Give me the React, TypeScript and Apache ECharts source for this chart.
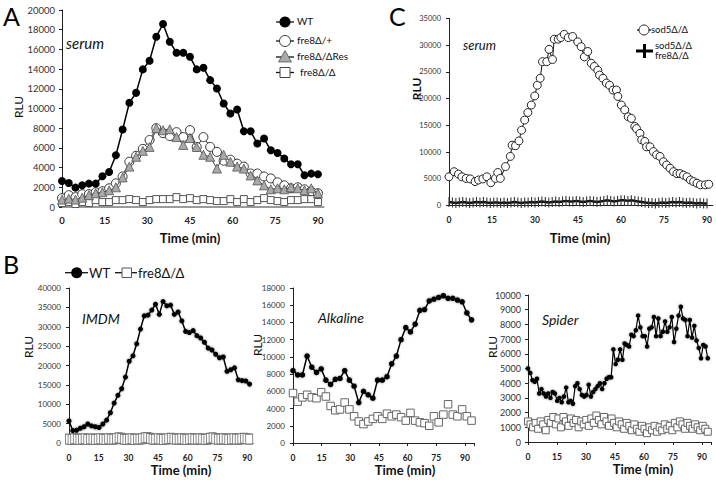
import React, { useEffect, useRef } from "react";
import * as echarts from "echarts";

const FONT = "Lato, 'Liberation Sans', 'DejaVu Sans', sans-serif";

// ---------- Panel A : serum ----------
const aStep = 90 / 38; // minutes between reads
const aWT = [2640, 2440, 1970, 2200, 2370, 2370, 3120, 3560, 5250, 7860, 10580, 11590, 13970, 14850, 17290, 18580, 16780, 15660, 15660, 15250, 13970, 14140, 12880, 12030, 10510, 9490, 9900, 7690, 7690, 6440, 6950, 5760, 5490, 4920, 4340, 4340, 3220, 3390, 3320];
const aHet = [900, 1200, 1000, 1300, 1300, 1500, 1600, 1900, 2400, 3100, 4600, 5200, 5900, 6800, 8000, 7500, 7200, 7600, 7100, 7800, 6100, 7100, 6100, 5600, 4700, 4800, 4400, 4100, 3400, 3400, 3100, 2900, 2500, 2200, 1900, 2000, 1800, 1600, 1400];
const aRes = [750, 850, 750, 950, 1200, 1400, 1500, 1700, 2000, 3000, 4100, 5100, 5700, 6100, 8000, 7800, 7900, 7100, 6300, 7000, 6100, 5300, 5100, 3900, 5300, 4600, 4100, 3900, 3200, 2700, 2200, 1800, 1900, 1800, 2000, 1900, 1700, 1900, 1400];
const aDel = [400, 500, 300, 500, 400, 700, 500, 500, 700, 700, 800, 700, 500, 700, 800, 800, 800, 1000, 800, 900, 700, 800, 700, 600, 600, 800, 500, 800, 500, 700, 900, 700, 600, 500, 700, 700, 800, 800, 500];

// ---------- Panel C : serum ----------
const cSodTimes = [0, 1.8, 3.3, 4.5, 6.0, 7.4, 9.1, 10.3, 11.8, 13.2, 14.6, 16.2, 17.0, 17.9, 19.7, 21.4, 22.0, 23.2, 24.4, 25.3, 26.4, 27.5, 28.7, 29.9, 30.8, 31.8, 32.6, 34.1, 34.9, 36.1, 36.7, 38.1, 39.0, 40.2, 41.6, 43.1, 44.9, 46.1, 47.2, 48.4, 49.6, 50.7, 51.9, 52.5, 53.7, 54.9, 56.0, 57.2, 58.4, 58.9, 60.1, 61.3, 62.5, 63.6, 64.8, 65.4, 66.6, 67.2, 68.3, 68.9, 70.1, 71.3, 72.4, 73.6, 74.8, 75.9, 77.1, 78.3, 79.5, 80.6, 81.8, 83.0, 84.2, 85.3, 86.5, 87.7, 89.4, 90.6];
const cSod = [5400, 6350, 5900, 5400, 5100, 5000, 4500, 4800, 5000, 5400, 4300, 5100, 6200, 5100, 7300, 9200, 11300, 11200, 12100, 14100, 16000, 17400, 18800, 20500, 22500, 23800, 26900, 26900, 29200, 27300, 31100, 31100, 31400, 32000, 31400, 31600, 30600, 29700, 27800, 28800, 26600, 26000, 25300, 24400, 23800, 22900, 22500, 21600, 21600, 20400, 18800, 17900, 16600, 16300, 14800, 14400, 13500, 12300, 12000, 11000, 11000, 10100, 9500, 9200, 8200, 7600, 7000, 6350, 6000, 6000, 5700, 5400, 4800, 4500, 4200, 3900, 3900, 4000];
const cDblStep = 1.2;
const cDbl = [700, 600, 500, 600, 700, 600, 500, 600, 700, 600, 700, 600, 500, 600, 600, 500, 600, 500, 600, 700, 600, 500, 600, 600, 700, 600, 700, 800, 700, 600, 700, 800, 700, 800, 900, 800, 800, 900, 800, 700, 800, 900, 800, 700, 800, 900, 1000, 900, 800, 900, 1000, 1000, 900, 1000, 900, 800, 700, 600, 500, 500, 400, 500, 600, 500, 600, 700, 600, 700, 600, 500, 600, 500, 400, 500, 400, 400];

// ---------- Panel B : IMDM ----------
const b1WTStep = 1.9;
const b1WT = [5700, 3200, 3300, 3800, 4200, 4900, 4400, 4200, 4000, 4900, 5900, 7800, 10300, 12300, 14000, 17000, 21100, 22500, 25600, 29400, 32800, 33000, 34300, 35800, 33200, 36500, 35400, 35600, 33200, 33800, 31500, 28800, 28500, 29000, 27700, 27100, 26000, 24500, 24000, 22900, 22000, 22200, 18500, 18900, 19400, 16300, 16100, 16000, 15200];
const b1DelStep = 91 / 69;
const b1Del = [1000, 900, 1100, 1000, 900, 1000, 1100, 900, 1000, 1000, 900, 1000, 1100, 1000, 900, 1100, 1000, 1000, 1100, 1300, 1200, 1000, 900, 1000, 1100, 900, 1000, 1000, 1100, 1300, 1400, 1200, 1000, 1000, 1100, 1000, 900, 1000, 1100, 1200, 1100, 1000, 1000, 1100, 1000, 900, 1000, 1100, 1000, 1000, 1100, 1000, 900, 1000, 1200, 1300, 1100, 1000, 1000, 1100, 1000, 900, 1000, 1100, 1000, 1000, 1100, 1200, 1100, 1000];

// ---------- Panel B : Alkaline ----------
const b2Step = 2.46;
const b2WT = [8400, 7900, 7900, 10100, 8800, 8200, 8600, 7300, 6800, 7400, 7500, 8400, 7300, 6600, 4700, 6000, 5600, 5200, 7300, 7300, 7700, 9200, 10100, 12000, 13400, 12900, 13800, 15400, 15500, 16500, 16700, 16900, 17100, 16800, 16800, 16600, 16400, 15100, 14300];
const b2Del = [5800, 4800, 5300, 5600, 5300, 5200, 5900, 5400, 4300, 3800, 3900, 4700, 3900, 3100, 2500, 2200, 2500, 2800, 3100, 2800, 3400, 3100, 3300, 3000, 2600, 3500, 2600, 2400, 2300, 2000, 3100, 2400, 3300, 4500, 3300, 3100, 3900, 3100, 2600];

// ---------- Panel B : Spider ----------
const b3WTStep = 93 / 80;
const b3WT = [5000, 4700, 4200, 4100, 4300, 3300, 3600, 3300, 3100, 3300, 3000, 3400, 3300, 2800, 3000, 2700, 3100, 3700, 2700, 2800, 2600, 3800, 4000, 3600, 3200, 3100, 3200, 3900, 3100, 3400, 3600, 3800, 4000, 3600, 4000, 4300, 4400, 4400, 6300, 5300, 5600, 6300, 5600, 6700, 6600, 6500, 7300, 7200, 7600, 8600, 7800, 7200, 7200, 6500, 7700, 7800, 8500, 7200, 8400, 7200, 7500, 8200, 7500, 7800, 8500, 6800, 7700, 8600, 9200, 8400, 8300, 7200, 8300, 7100, 7900, 6900, 6400, 5700, 6600, 6500, 5700];
const b3DelStep = 93 / 71;
const b3Del = [1400, 1200, 1000, 1300, 900, 1400, 1200, 800, 1500, 1300, 1700, 1200, 1600, 1000, 1700, 1400, 1100, 1600, 1300, 1500, 1000, 1400, 1200, 1500, 1100, 1600, 1300, 1800, 1500, 1200, 1700, 1400, 1100, 1600, 1300, 1000, 1400, 1200, 900, 1300, 1100, 800, 1200, 900, 700, 1100, 900, 600, 1000, 800, 1100, 700, 1000, 800, 1200, 900, 1100, 800, 1300, 1000, 1400, 1200, 900, 1300, 1100, 900, 1200, 1000, 800, 1100, 900, 700];

const pairs = (vals: number[], step: number) => vals.map((v, i) => [+(i * step).toFixed(3), v]);
const zipT = (ts: number[], vals: number[]) => vals.map((v, i) => [ts[i], v]);

function xAx(gridIndex: number, max: number, o: any) {
  return {
    type: "value", gridIndex, min: 0, max, interval: 15,
    axisLine: { show: true, onZero: false, lineStyle: { color: o.lineColor || "#222", width: o.lineWidth || 1 } },
    axisTick: { show: !!o.tick, length: 3, lineStyle: { color: "#222" } },
    axisLabel: {
      formatter: (v: number) => (v % 15 === 0 ? String(v) : ""),
      fontFamily: FONT, fontWeight: "bold", fontSize: o.fs, color: "#222", margin: o.margin,
    },
    splitLine: { show: false },
  };
}
function yAx(gridIndex: number, max: number, interval: number, fs: number, margin: number) {
  return {
    type: "value", gridIndex, min: 0, max, interval,
    axisLine: { show: true, lineStyle: { color: "#222", width: 1 } },
    axisTick: { show: true, length: 3, lineStyle: { color: "#222" } },
    axisLabel: { formatter: (v: number) => String(v), fontFamily: FONT, fontSize: fs, color: "#333", margin },
    splitLine: { show: false },
  };
}

const base = { type: "line", silent: true, clip: false, showSymbol: true };

function txt(x: number, y: number, text: string, fs: number, extra: any = {}) {
  const align = extra.align || "left";
  return {
    type: "text", x, y, rotation: extra.rotation || 0, z: 100,
    style: {
      text, fontSize: fs, fontFamily: FONT, fontWeight: extra.bold ? "bold" : "normal",
      fontStyle: extra.italic ? "italic" : "normal", fill: extra.fill || "#111",
      align, verticalAlign: "middle", textAlign: align, textVerticalAlign: "middle",
    },
  };
}

export default function App() {
  const ref = useRef<HTMLDivElement>(null);
  useEffect(() => {
    if (!ref.current) return;
    const chart = echarts.init(ref.current, undefined, { renderer: "svg" });
    const legLine = (x1: number, x2: number, y: number) => ({ type: "line", z: 100, shape: { x1, y1: y, x2, y2: y }, style: { stroke: "#111", lineWidth: 1.3 } });
    const option: any = {
      animation: false,
      backgroundColor: "#fff",
      grid: [
        { left: 62, top: 10, width: 92 * 2.844, height: 197 },
        { left: 449, top: 18.3, width: 92 * 2.867, height: 187.4 },
        { left: 69, top: 288, width: 93 * 1.98, height: 155 },
        { left: 293, top: 288, width: 95 * 1.91, height: 155 },
        { left: 528, top: 295, width: 95 * 1.933, height: 147 },
      ],
      xAxis: [
        xAx(0, 92, { lineColor: "#9a9a9a", lineWidth: 2, tick: false, fs: 9.5, margin: 8 }),
        xAx(1, 92, { tick: false, fs: 8.5, margin: 10 }),
        xAx(2, 93, { tick: false, fs: 8.5, margin: 10 }),
        xAx(3, 95, { tick: true, fs: 8.5, margin: 10 }),
        xAx(4, 95, { tick: true, fs: 8.5, margin: 10 }),
      ],
      yAxis: [
        yAx(0, 20000, 2000, 9.5, 7),
        yAx(1, 35000, 5000, 7.5, 8),
        yAx(2, 40000, 5000, 8, 8),
        yAx(3, 18000, 2000, 8, 8),
        yAx(4, 10000, 1000, 9, 7),
      ],
      series: [
        // A
        { ...base, name: "fre8Δ/Δ", xAxisIndex: 0, yAxisIndex: 0, data: pairs(aDel, aStep), symbol: "rect", symbolSize: 7, itemStyle: { color: "#fff", borderColor: "#555", borderWidth: 1 }, lineStyle: { color: "#888", width: 1 }, z: 2 },
        { ...base, name: "fre8Δ/+", xAxisIndex: 0, yAxisIndex: 0, data: pairs(aHet, aStep), symbol: "circle", symbolSize: 9, itemStyle: { color: "#fff", borderColor: "#333", borderWidth: 1 }, lineStyle: { color: "#333", width: 1 }, z: 3 },
        { ...base, name: "fre8Δ/ΔRes", xAxisIndex: 0, yAxisIndex: 0, data: pairs(aRes, aStep), symbol: "triangle", symbolSize: 9, itemStyle: { color: "#a9a9a9", borderColor: "#555", borderWidth: 0.8 }, lineStyle: { color: "#444", width: 1 }, z: 4 },
        { ...base, name: "WT", xAxisIndex: 0, yAxisIndex: 0, data: pairs(aWT, aStep), symbol: "circle", symbolSize: 8, itemStyle: { color: "#000" }, lineStyle: { color: "#000", width: 1.5 }, z: 5 },
        // C
        { ...base, name: "sod5Δ/Δ fre8Δ/Δ", xAxisIndex: 1, yAxisIndex: 1, data: pairs(cDbl, cDblStep), symbol: "rect", symbolSize: [1.1, 10], itemStyle: { color: "#333" }, lineStyle: { color: "#111", width: 2.5 }, z: 5 },
        { ...base, name: "sod5Δ/Δ", xAxisIndex: 1, yAxisIndex: 1, data: zipT(cSodTimes, cSod), symbol: "circle", symbolSize: 8, itemStyle: { color: "#fff", borderColor: "#222", borderWidth: 1 }, lineStyle: { color: "#111", width: 1 }, z: 4 },
        // B IMDM
        { ...base, name: "fre8Δ/Δ", xAxisIndex: 2, yAxisIndex: 2, data: pairs(b1Del, b1DelStep), symbol: "rect", symbolSize: [7, 10], itemStyle: { color: "#fff", borderColor: "#777", borderWidth: 1 }, lineStyle: { opacity: 0 }, z: 2 },
        { ...base, name: "WT", xAxisIndex: 2, yAxisIndex: 2, data: pairs(b1WT, b1WTStep), symbol: "circle", symbolSize: 5, itemStyle: { color: "#000", shadowBlur: 2, shadowColor: "rgba(0,0,0,0.5)" }, lineStyle: { color: "#000", width: 1.5 }, z: 5 },
        // B Alkaline
        { ...base, name: "fre8Δ/Δ", xAxisIndex: 3, yAxisIndex: 3, data: pairs(b2Del, b2Step), symbol: "rect", symbolSize: 7.5, itemStyle: { color: "#fff", borderColor: "#666", borderWidth: 1 }, lineStyle: { opacity: 0 }, z: 2 },
        { ...base, name: "WT", xAxisIndex: 3, yAxisIndex: 3, data: pairs(b2WT, b2Step), symbol: "circle", symbolSize: 5.5, itemStyle: { color: "#000", shadowBlur: 2, shadowColor: "rgba(0,0,0,0.5)" }, lineStyle: { color: "#000", width: 1.5 }, z: 5 },
        // B Spider
        { ...base, name: "fre8Δ/Δ", xAxisIndex: 4, yAxisIndex: 4, data: pairs(b3Del, b3DelStep), symbol: "rect", symbolSize: 7, itemStyle: { color: "#fff", borderColor: "#666", borderWidth: 1 }, lineStyle: { opacity: 0 }, z: 2 },
        { ...base, name: "WT", xAxisIndex: 4, yAxisIndex: 4, data: pairs(b3WT, b3WTStep), symbol: "circle", symbolSize: 4.5, itemStyle: { color: "#000", shadowBlur: 2, shadowColor: "rgba(0,0,0,0.5)" }, lineStyle: { color: "#000", width: 1.2 }, z: 5 },
      ],
      graphic: [
        // panel letters
        txt(3, 16, "A", 25, { fill: "#000" }),
        txt(389, 16, "C", 25, { fill: "#000" }),
        txt(3, 264, "B", 25, { fill: "#000" }),
        // in-plot labels
        txt(66, 43, "serum", 15, { italic: true }),
        txt(463, 45, "serum", 13, { italic: true }),
        txt(82, 318, "IMDM", 14, { italic: true }),
        txt(318, 317, "Alkaline", 14, { italic: true }),
        txt(542, 319, "Spider", 14, { italic: true }),
        // axis titles
        txt(18, 107, "RLU", 12, { align: "center", rotation: Math.PI / 2 }),
        txt(416, 89, "RLU", 12, { align: "center", rotation: Math.PI / 2, bold: true }),
        txt(28, 347, "RLU", 12, { align: "center", rotation: Math.PI / 2 }),
        txt(257, 345, "RLU", 12, { align: "center", rotation: Math.PI / 2 }),
        txt(492, 347, "RLU", 12, { align: "center", rotation: Math.PI / 2 }),
        txt(190, 238, "Time (min)", 13, { align: "center", bold: true }),
        txt(580, 238, "Time (min)", 13, { align: "center", bold: true }),
        txt(181, 470, "Time (min)", 13, { align: "center", bold: true }),
        txt(405, 470, "Time (min)", 13, { align: "center", bold: true }),
        txt(643, 469, "Time (min)", 13, { align: "center", bold: true }),
        // legend A
        legLine(276, 294, 22),
        { type: "circle", z: 101, shape: { cx: 285, cy: 22, r: 5.5 }, style: { fill: "#000" } },
        txt(297, 21, "WT", 10),
        legLine(276, 294, 41),
        { type: "circle", z: 101, shape: { cx: 285, cy: 41, r: 5.5 }, style: { fill: "#fff", stroke: "#333", lineWidth: 1 } },
        txt(297, 40, "fre8Δ/+", 10),
        legLine(276, 294, 57),
        { type: "polygon", z: 101, shape: { points: [[285, 50.5], [278.5, 62], [291.5, 62]] }, style: { fill: "#a9a9a9", stroke: "#555", lineWidth: 0.8 } },
        txt(297, 56, "fre8Δ/ΔRes", 10),
        legLine(276, 294, 72.5),
        { type: "rect", z: 101, shape: { x: 280, y: 67.5, width: 10, height: 10 }, style: { fill: "#fff", stroke: "#444", lineWidth: 1 } },
        txt(300, 71.5, "fre8Δ/Δ", 10),
        // legend C
        legLine(637, 651, 30),
        { type: "circle", z: 101, shape: { cx: 644, cy: 30, r: 5 }, style: { fill: "#fff", stroke: "#222", lineWidth: 1 } },
        txt(651, 29.5, "sod5Δ/Δ", 9.5),
        { type: "rect", z: 101, shape: { x: 636, y: 49.5, width: 17, height: 3 }, style: { fill: "#000" } },
        { type: "rect", z: 101, shape: { x: 643, y: 44, width: 3, height: 14 }, style: { fill: "#000" } },
        txt(655, 45.5, "sod5Δ/Δ", 9.5),
        txt(655, 55, "fre8Δ/Δ", 9.5),
        // legend B
        legLine(65, 88, 272.7),
        { type: "circle", z: 101, shape: { cx: 76.7, cy: 272.7, r: 5.5 }, style: { fill: "#000" } },
        txt(89, 272.5, "WT", 13),
        legLine(115, 137, 272.7),
        { type: "rect", z: 101, shape: { x: 122, y: 268, width: 9.5, height: 9.5 }, style: { fill: "#fff", stroke: "#555", lineWidth: 1 } },
        txt(138, 272.5, "fre8Δ/Δ", 13),
      ],
    };
    chart.setOption(option);
    return () => chart.dispose();
  }, []);
  return (
    <div
      ref={ref}
      style={{ position: "fixed", left: 0, top: 0, width: 716, height: 480, background: "#fff" }}
    />
  );
}
